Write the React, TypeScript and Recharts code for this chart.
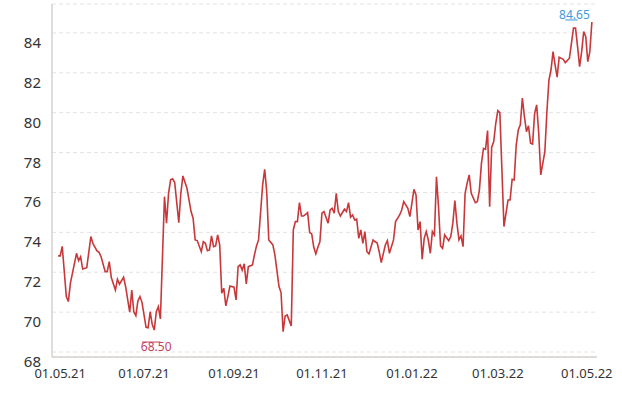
import { CartesianGrid, Line, LineChart, ReferenceLine, XAxis, YAxis } from "recharts"

// trading-day index since 30.04.21 and closing price
const days = [
  0, 1, 2, 4, 5, 6, 9, 10, 11, 12, 14, 16, 17, 19, 20, 21, 23, 24, 25, 26, 28, 29, 30, 32, 33, 35, 36, 37, 38, 39,
  40, 41, 43, 44, 45, 46, 47, 48, 49, 50, 52, 53, 54, 55, 56, 57, 59, 60, 61, 63, 65, 66, 67, 68, 70, 71, 72, 73, 74,
  75, 76, 77, 78, 79, 80, 81, 82, 83, 84, 86, 87, 88, 89, 90, 91, 92, 93, 95, 96, 97, 98, 100, 101, 102, 103, 105, 106,
  108, 109, 110, 111, 112, 114, 115, 116, 117, 118, 119, 120, 122, 123, 124, 125, 126, 127, 128, 129, 130, 132, 133,
  134, 135, 136, 137, 138, 140, 141, 142, 143, 144, 145, 146, 147, 148, 149, 150, 151, 152, 154, 155, 156, 157, 158,
  160, 161, 162, 164, 165, 167, 168, 169, 171, 172, 174, 175, 176, 177, 178, 179, 180, 181, 182, 183, 184, 185, 186,
  187, 188, 189, 191, 192, 193, 194, 195, 196, 197, 198, 199, 200, 201, 202, 204, 205, 206, 207, 208, 209, 210, 211,
  212, 213, 214, 215, 216, 218, 220, 221, 222, 223, 224, 225, 226, 227, 228, 229, 230, 231, 232, 233, 234, 235, 236,
  238, 239, 240, 241, 242, 243, 244, 245, 247, 248, 250, 251, 252, 253, 254, 255, 256, 257, 258, 259, 260, 261,
]

const prices = [
  72.82, 72.82, 73.3, 70.78, 70.53, 71.45, 72.95, 72.58, 72.78, 72.16, 72.23, 73.79, 73.45, 73.07, 73.0, 72.78, 72.03,
  72.03, 72.53, 71.73, 71.11, 71.65, 71.4, 71.75, 71.28, 70.0, 71.11, 70.02, 69.82, 70.56, 70.78, 70.49, 69.24, 69.22,
  70.02, 69.39, 69.1, 70.02, 70.27, 69.66, 75.79, 74.46, 75.96, 76.63, 76.68, 76.5, 74.49, 75.96, 76.83, 76.21, 75.04,
  74.71, 73.62, 73.59, 73.03, 73.53, 73.45, 73.08, 73.12, 73.82, 73.28, 73.32, 73.87, 73.37, 70.95, 71.2, 70.31, 70.78,
  71.31, 71.25, 70.61, 72.28, 72.37, 72.11, 72.42, 71.41, 72.28, 72.37, 72.87, 73.32, 73.62, 76.38, 77.16, 76.04, 73.62,
  73.37, 72.87, 71.28, 70.98, 69.02, 69.81, 69.86, 69.3, 74.12, 74.54, 74.54, 75.49, 74.82, 74.82, 74.99, 73.99, 73.92,
  73.25, 72.92, 73.25, 73.53, 74.96, 75.04, 74.46, 75.12, 75.21, 74.96, 75.96, 75.04, 74.82, 75.16, 75.04, 75.49, 74.76,
  74.87, 74.62, 74.66, 73.7, 74.12, 73.45, 74.04, 73.03, 72.92, 73.62, 73.53, 73.48, 73.03, 72.48, 73.37, 73.58, 72.95,
  73.62, 74.54, 74.87, 75.12, 75.54, 75.21, 74.79, 76.16, 75.88, 74.12, 74.54, 72.65, 73.7, 74.04, 73.62, 72.95, 74.04,
  73.87, 76.79, 75.29, 73.32, 73.2, 73.87, 73.58, 73.79, 74.46, 75.59, 74.46, 73.62, 73.82, 73.28, 75.96, 76.46, 76.88,
  75.96, 75.49, 75.54, 76.13, 77.47, 78.21, 78.16, 79.1, 75.29, 78.27, 78.55, 79.47, 80.1, 80.0, 74.29, 75.62, 75.62,
  76.66, 76.63, 78.38, 79.13, 79.39, 80.73, 79.81, 79.05, 79.34, 78.47, 78.43, 79.97, 80.39, 78.97, 76.88, 78.05, 80.05,
  81.64, 82.14, 83.06, 82.4, 81.78, 82.78, 82.68, 82.51, 82.73, 83.48, 84.24, 84.24, 83.31, 82.31, 83.06, 84.07, 83.81,
  82.56, 83.06, 84.55,
]

const tickDays = [1, 42, 86, 129, 173, 215, 258.5]
const tickLabels = ["01.05.21", "01.07.21", "01.09.21", "01.11.21", "01.01.22", "01.03.22", "01.05.22"]
const yTicks = [68, 70, 72, 74, 76, 78, 80, 82, 84]

const lowValue = 68.5
const lowDays = [41, 50]
const highValue = 84.65
const highDays = [248, 254]

const data = days.map((d, i) => ({ day: d, price: prices[i] }))

const font = "'Noto Sans', sans-serif"

function XTick({ x, y, payload }: any) {
  const i = tickDays.indexOf(payload.value)
  return (
    <text x={x} y={y + 13} textAnchor="middle" fontSize={13} fontFamily={font} fill="#333">
      {tickLabels[i]}
    </text>
  )
}

function YTick({ x, y, payload }: any) {
  return (
    <text x={x - 3} y={y + 15} textAnchor="end" fontSize={15} fontFamily={font} fill="#333">
      {payload.value}
    </text>
  )
}

export default function App() {
  return (
    <div style={{ position: "absolute", left: 0, top: 0, background: "#fff" }}>
      <LineChart width={622} height={395} data={data} margin={{ top: 4, right: 25, left: 0, bottom: 8 }}>
        <CartesianGrid vertical={false} strokeDasharray="4 3" stroke="#e3e3e3" />
        <XAxis
          dataKey="day"
          type="number"
          domain={[-3, 263.5]}
          ticks={tickDays}
          tick={XTick}
          tickLine={false}
          axisLine={{ stroke: "#d6d1cc", strokeWidth: 1.5 }}
          height={30}
          allowDataOverflow
        />
        <YAxis
          type="number"
          domain={[67.75, 85.45]}
          ticks={yTicks}
          tick={YTick}
          tickLine={false}
          axisLine={{ stroke: "#d6d1cc", strokeWidth: 1.5 }}
          width={52}
          allowDataOverflow
        />
        <Line
          type="linear"
          dataKey="price"
          stroke="#c8383a"
          strokeWidth={1.6}
          dot={false}
          isAnimationActive={false}
        />
        <ReferenceLine
          segment={[{ x: lowDays[0], y: lowValue }, { x: lowDays[1], y: lowValue }]}
          stroke="#c4405f"
          label={{ value: lowValue.toFixed(2), position: "bottom", offset: 0, dx: 5, fill: "#c4405f", fontSize: 12, fontFamily: font }}
        />
        <ReferenceLine
          segment={[{ x: highDays[0], y: highValue }, { x: highDays[1], y: highValue }]}
          stroke="#3b9ad8"
          label={{ value: highValue.toFixed(2), position: "top", offset: 1, dx: 3, fill: "#3b9ad8", fontSize: 12, fontFamily: font }}
        />
      </LineChart>
    </div>
  )
}
